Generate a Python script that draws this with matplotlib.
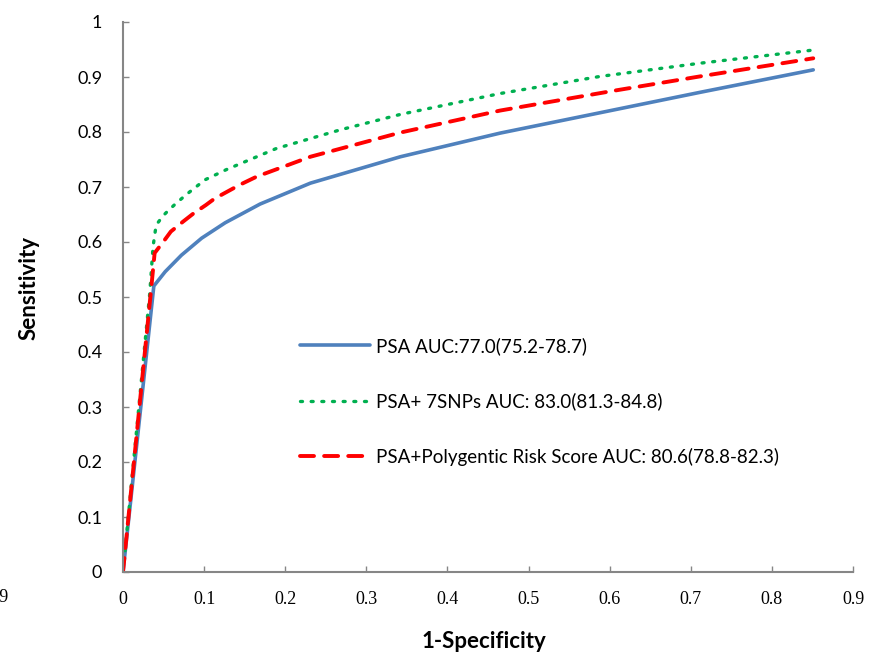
import numpy as np
import matplotlib
matplotlib.use('Agg')
import matplotlib.pyplot as plt

# ROC points
psa_fpr = [0, 0.038, 0.052, 0.072, 0.097, 0.126, 0.169, 0.231, 0.342, 0.465, 0.588, 0.711, 0.851]
psa_tpr = [0, 0.520, 0.546, 0.576, 0.607, 0.635, 0.669, 0.707, 0.755, 0.798, 0.835, 0.872, 0.913]

snp_fpr = [0, 0.033, 0.037, 0.040, 0.043, 0.049, 0.055, 0.063, 0.077, 0.101, 0.128, 0.189, 0.268,
           0.342, 0.465, 0.588, 0.711, 0.851]
snp_tpr = [0, 0.507, 0.591, 0.622, 0.635, 0.647, 0.656, 0.667, 0.685, 0.713, 0.732, 0.770, 0.804,
           0.832, 0.870, 0.901, 0.925, 0.949]

prs_fpr = [0, 0.035, 0.039, 0.050, 0.059, 0.074, 0.087, 0.102, 0.113, 0.144, 0.165, 0.231, 0.342,
           0.465, 0.605, 0.711, 0.851]
prs_tpr = [0, 0.519, 0.580, 0.601, 0.619, 0.637, 0.652, 0.667, 0.679, 0.704, 0.719, 0.755, 0.799,
           0.839, 0.875, 0.901, 0.934]

labels = ['PSA AUC:77.0(75.2-78.7)',
          'PSA+ 7SNPs AUC: 83.0(81.3-84.8)',
          'PSA+Polygentic Risk Score AUC: 80.6(78.8-82.3)']

x_ticks = [0, 0.1, 0.2, 0.3, 0.4, 0.5, 0.6, 0.7, 0.8, 0.9]
y_ticks = [0, 0.1, 0.2, 0.3, 0.4, 0.5, 0.6, 0.7, 0.8, 0.9, 1]

plt.rcParams['font.family'] = ['Lato', 'DejaVu Sans']

W, H = 873, 656
fig = plt.figure(figsize=(W / 100, H / 100), dpi=100)
ax = fig.add_axes([123 / W, 1 - 572 / H, 730 / W, 550 / H])

ax.plot(psa_fpr, psa_tpr, color='#4F81BD', linewidth=2.6, label=labels[0], solid_capstyle='round')
ax.plot(snp_fpr, snp_tpr, color='#00B050', linewidth=2.4, linestyle=(0, (0.6, 2.6)),
        dash_capstyle='round', label=labels[1])
ax.plot(prs_fpr, prs_tpr, color='#FF0000', linewidth=2.8, linestyle=(0, (3.6, 2.6)),
        dash_capstyle='round', label=labels[2])

ax.set_xlim(0, 0.9)
ax.set_ylim(0, 1)
ax.set_xticks(x_ticks)
ax.set_xticklabels([('%g' % t) for t in x_ticks], family='Liberation Serif', fontsize=13)
ax.set_yticks(y_ticks)
ax.set_yticklabels([('%g' % t) for t in y_ticks], fontsize=13)

for s in ['top', 'right']:
    ax.spines[s].set_visible(False)
for s in ['left', 'bottom']:
    ax.spines[s].set_color('#868686')
    ax.spines[s].set_linewidth(1.5)
ax.tick_params(axis='both', direction='in', length=4.5, width=1, color='#868686')
ax.tick_params(axis='x', pad=14)
ax.tick_params(axis='y', pad=15)

ax.set_xlabel('1-Specificity', fontsize=16, fontweight='bold', va='center')
ax.set_ylabel('Sensitivity', fontsize=16, fontweight='bold', va='center')
ax.xaxis.set_label_coords((484 - 123) / 730, (572 - 641) / 550)
ax.yaxis.set_label_coords((29 - 123) / 730, (572 - 288) / 550)

# stray label cut off at the left edge
fig.text(9 / W, 1 - 597 / H, '0.9', family='Liberation Serif', fontsize=13, ha='right', va='center')

ax.legend(loc='upper left', bbox_to_anchor=(300 / W, 1 - 337 / H), bbox_transform=fig.transFigure,
          frameon=False, fontsize=13.5, handlelength=3.75, handletextpad=0.3, labelspacing=2.0,
          borderpad=0, borderaxespad=0)

fig.savefig('out.png', dpi=100)
